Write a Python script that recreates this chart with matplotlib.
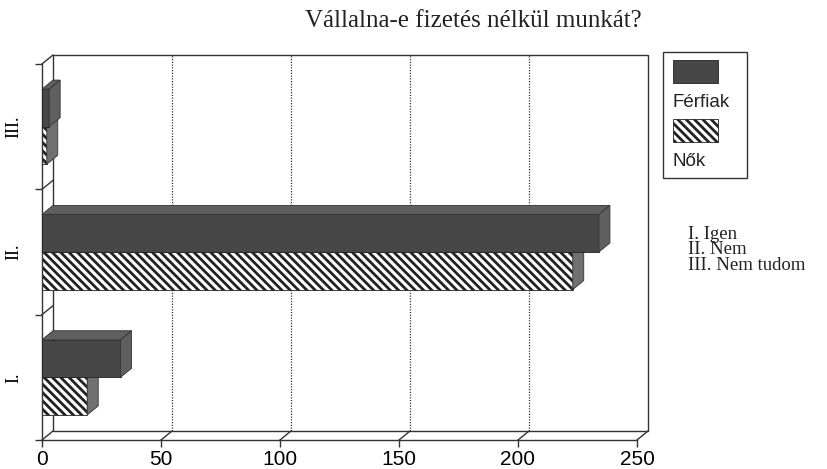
import matplotlib.pyplot as plt
from matplotlib.patches import Polygon, Rectangle

# data
categories = ["I.", "II.", "III."]
ferfiak = [33, 234, 3]
nok = [19, 223, 2]
xticks = [0, 50, 100, 150, 200, 250]
series_names = ["Férfiak", "Nők"]
answer_labels = ["I. Igen", "II. Nem", "III. Nem tudom"]
title = "Vállalna-e fizetés nélkül munkát?"

plt.rcParams["hatch.linewidth"] = 2.0
plt.rcParams["hatch.color"] = "#222222"

line_c = "#333333"
dark = "#474747"
dark_side = "#5f5f5f"
hatch_side = "#707070"

fig = plt.figure(figsize=(8.28, 4.69), dpi=100)
ax = fig.add_axes([42 / 828, 29 / 469, 595 / 828, 376 / 469])
ax.set_xlim(0, 250)
ax.set_ylim(0, len(categories))

# depth offset (pixels -> data units)
p0 = ax.transData.transform((0, 0))
dx, dy = ax.transData.inverted().transform(p0 + [11, 9])

# back wall, floor and left wall
xmax, ymax = 250, len(categories)
ax.add_patch(Rectangle((dx, dy), xmax, ymax, fill=False, ec=line_c, lw=1.0, clip_on=False))
for (x0, y0) in [(0, 0), (xmax, 0), (0, ymax)]:
    ax.plot([x0, x0 + dx], [y0, y0 + dy], color=line_c, lw=1.0, clip_on=False)
for t in xticks[1:-1]:
    ax.plot([t + dx, t + dx], [dy, ymax + dy], color=line_c, lw=0.9, ls=(0, (1, 1.2)), clip_on=False)
    ax.plot([t, t + dx], [0, dy], color=line_c, lw=1.0, clip_on=False)
for k in range(1, len(categories)):
    ax.plot([0, dx], [k, k + dy], color=line_c, lw=1.0, clip_on=False)


def bar3d(v, b, h, face, side, hatch=None, z=2):
    ax.barh(b, v, height=h, align="edge", color=face, hatch=hatch,
            edgecolor="#222222", linewidth=0.6, zorder=z)
    top = [(0, b + h), (v, b + h), (v + dx, b + h + dy), (dx, b + h + dy)]
    right = [(v, b), (v + dx, b + dy), (v + dx, b + h + dy), (v, b + h)]
    for pts in (top, right):
        ax.add_patch(Polygon(pts, closed=True, fc=side, ec="#333333", lw=0.6,
                             zorder=z, clip_on=False))


h = 0.3
for i in range(len(categories)):
    mid = i + 0.5
    bar3d(nok[i], mid - h, h, "white", hatch_side, hatch="\\\\\\\\", z=2)
    bar3d(ferfiak[i], mid, h, dark, dark_side, z=3)

# axes
for s in ["top", "right"]:
    ax.spines[s].set_visible(False)
for s in ["left", "bottom"]:
    ax.spines[s].set_color(line_c)
    ax.spines[s].set_linewidth(1.0)
ax.set_xticks(xticks)
ax.set_xticklabels([str(t) for t in xticks], family="Liberation Sans", fontsize=15)
ax.set_yticks(range(len(categories) + 1))
ax.set_yticklabels([])
ax.set_yticks([i + 0.5 for i in range(len(categories))], minor=True)
ax.set_yticklabels(categories, minor=True, rotation=90, va="center",
                   family="Liberation Serif", fontsize=13)
ax.tick_params(axis="both", which="major", length=5, width=1.0, color=line_c, pad=2)
ax.tick_params(axis="y", which="minor", length=0, pad=14)

fig.text(473 / 828, 1 - 21 / 469, title, ha="center", va="center",
         family="Liberation Serif", fontsize=18, color="#222222")

# legend
lx, ly = 663 / 828, 1 - 178 / 469
fig.patches.append(Rectangle((lx, ly), 84 / 828, 126 / 469, transform=fig.transFigure,
                             fill=False, ec=line_c, lw=1.0))
fig.patches.append(Rectangle((673 / 828, 1 - 83 / 469), 45 / 828, 23 / 469,
                             transform=fig.transFigure, fc=dark, ec="#222222", lw=0.6))
fig.patches.append(Rectangle((673 / 828, 1 - 142 / 469), 45 / 828, 23 / 469,
                             transform=fig.transFigure, fc="white", ec="#222222", lw=0.6,
                             hatch="\\\\\\\\"))
fig.text(673 / 828, 1 - 102 / 469, series_names[0], va="center", ha="left",
         family="Liberation Sans", fontsize=13.5, color="#222222")
fig.text(673 / 828, 1 - 161 / 469, series_names[1], va="center", ha="left",
         family="Liberation Sans", fontsize=13.5, color="#222222")

# key to the category numbers
for k, lab in enumerate(answer_labels):
    fig.text(688 / 828, 1 - (239 + 15.5 * k) / 469, lab, va="baseline", ha="left",
             family="Liberation Serif", fontsize=13.5, color="#222222")

fig.savefig("out.png", dpi=100)
